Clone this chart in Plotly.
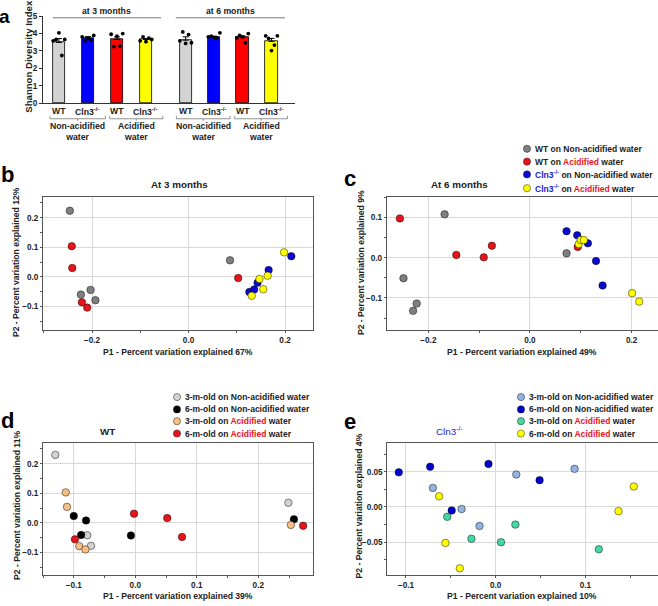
import plotly.graph_objects as go
import numpy as np

W, H = 658, 606
FONT = "Liberation Sans, Arial, sans-serif"

# ---------------- Panel a data ----------------
bar_pos = [0, 1, 2, 3, 4.37, 5.35, 6.33, 7.33]
bar_genotype = ["WT", "Cln3<sup>-/-</sup>", "WT", "Cln3<sup>-/-</sup>",
                "WT", "Cln3<sup>-/-</sup>", "WT", "Cln3<sup>-/-</sup>"]
bar_colors = ["#d3d3d3", "#0000ff", "#ff0000", "#ffff00",
              "#d3d3d3", "#0000ff", "#ff0000", "#ffff00"]
bar_means = [3.49, 3.74, 3.66, 3.66, 3.62, 3.79, 3.79, 3.55]
bar_sem = [0.22, 0.08, 0.15, 0.05, 0.19, 0.06, 0.07, 0.17]
bar_points = [
    [3.58, 3.66, 4.04, 2.74, 3.66],
    [3.81, 3.58, 3.74, 3.62, 3.89],
    [3.96, 3.25, 3.85, 3.28, 4.00],
    [3.58, 3.81, 3.53, 3.74, 3.66],
    [3.58, 4.09, 3.43, 3.94, 3.47],
    [3.81, 3.85, 3.77, 3.75, 4.04],
    [3.75, 3.90, 3.81, 3.47, 4.00],
    [3.87, 3.72, 3.02, 3.34, 3.87],
]
water_groups = ["Non-acidified<br>water", "Acidified<br>water",
                "Non-acidified<br>water", "Acidified<br>water"]
age_groups = ["at 3 months", "at 6 months"]

# ---------------- Panel b data (at 3 months) ----------------
b_wt_non_x = [-0.246, -0.223, -0.203, -0.193, 0.086]
b_wt_non_y = [0.224, -0.060, -0.044, -0.079, 0.056]
b_wt_acid_x = [-0.242, -0.241, -0.221, -0.210, 0.103]
b_wt_acid_y = [0.104, 0.030, -0.086, -0.104, -0.004]
b_cln_non_x = [0.126, 0.136, 0.143, 0.166, 0.213]
b_cln_non_y = [-0.051, -0.043, -0.020, 0.023, 0.070]
b_cln_acid_x = [0.131, 0.147, 0.155, 0.164, 0.198]
b_cln_acid_y = [-0.064, -0.007, -0.042, 0.004, 0.083]

# ---------------- Panel c data (at 6 months) ----------------
c_wt_non_x = [-0.168, -0.249, -0.223, -0.230, 0.072]
c_wt_non_y = [0.108, -0.051, -0.114, -0.132, 0.011]
c_wt_acid_x = [-0.256, -0.145, -0.091, -0.075, 0.094]
c_wt_acid_y = [0.098, 0.007, 0.001, 0.030, 0.027]
c_cln_non_x = [0.072, 0.093, 0.114, 0.130, 0.143]
c_cln_non_y = [0.066, 0.056, 0.036, -0.008, -0.069]
c_cln_acid_x = [0.096, 0.100, 0.106, 0.201, 0.215]
c_cln_acid_y = [0.034, 0.044, 0.044, -0.088, -0.109]

# ---------------- Panel d data (WT) ----------------
d_3m_non_x = [-0.130, -0.078, -0.072, 0.249]
d_3m_non_y = [0.230, -0.042, -0.078, 0.068]
d_6m_non_x = [-0.100, -0.080, -0.088, -0.007, 0.258]
d_6m_non_y = [0.023, 0.008, -0.041, -0.043, 0.012]
d_3m_acid_x = [-0.113, -0.111, -0.091, -0.081, 0.253]
d_3m_acid_y = [0.103, 0.054, -0.079, -0.090, -0.007]
d_6m_acid_x = [-0.098, -0.002, 0.052, 0.076, 0.273]
d_6m_acid_y = [-0.056, 0.031, 0.016, -0.048, -0.010]

# ---------------- Panel e data (Cln3-/-) ----------------
e_3m_non_x = [-0.070, -0.038, -0.018, 0.023, 0.088]
e_3m_non_y = [0.027, -0.003, -0.027, 0.046, 0.054]
e_6m_non_x = [-0.108, -0.073, -0.008, -0.049, 0.049]
e_6m_non_y = [0.049, 0.057, 0.061, -0.005, 0.038]
e_3m_acid_x = [-0.054, -0.027, 0.006, 0.022, 0.115]
e_3m_acid_y = [-0.014, -0.045, -0.050, -0.025, -0.060]
e_6m_acid_x = [-0.063, -0.056, -0.040, 0.137, 0.154]
e_6m_acid_y = [0.015, -0.051, -0.087, -0.006, 0.029]

GRAY, RED, BLUE, YELLOW = "#7f7f7f", "#e8141b", "#0a0ad2", "#ffff00"
LGRAY, BLACK, TAN = "#d2d2d2", "#000000", "#f7bf86"
LBLUE, GREEN = "#93b4e0", "#45d8a3"
ACID = '<span style="color:#e8141b">Acidified</span>'
CLN = '<span style="color:#1a1ad0">Cln3<sup>-/-</sup></span>'


def px_x(p):
    return p / W


def px_y(p):
    return 1 - p / H


fig = go.Figure()

# ---- panel a traces ----
fig.add_trace(go.Bar(
    x=bar_pos, y=bar_means, width=0.42,
    marker=dict(color=bar_colors, line=dict(color="black", width=0.8)),
    error_y=dict(type="data", array=bar_sem, arrayminus=[0] * len(bar_sem),
                 symmetric=False, color="black", thickness=1, width=3),
    xaxis="x", yaxis="y", showlegend=False, hoverinfo="skip"))
for pos, pts in zip(bar_pos, bar_points):
    offs = np.linspace(-0.2, 0.2, len(pts))
    fig.add_trace(go.Scatter(
        x=[pos + o for o in offs], y=pts, mode="markers",
        marker=dict(color="black", size=3.8),
        xaxis="x", yaxis="y", showlegend=False, hoverinfo="skip"))


def scatter(xs, ys, color, ax, edge="rgba(0,0,0,0.65)"):
    fig.add_trace(go.Scatter(
        x=xs, y=ys, mode="markers",
        marker=dict(color=color, size=7.5, line=dict(color=edge, width=0.7)),
        xaxis="x" + ax, yaxis="y" + ax, showlegend=False, hoverinfo="skip"))


scatter(b_wt_non_x, b_wt_non_y, GRAY, "2")
scatter(b_wt_acid_x, b_wt_acid_y, RED, "2")
scatter(b_cln_non_x, b_cln_non_y, BLUE, "2")
scatter(b_cln_acid_x, b_cln_acid_y, YELLOW, "2")

scatter(c_wt_non_x, c_wt_non_y, GRAY, "3")
scatter(c_wt_acid_x, c_wt_acid_y, RED, "3")
scatter(c_cln_non_x, c_cln_non_y, BLUE, "3")
scatter(c_cln_acid_x, c_cln_acid_y, YELLOW, "3")

scatter(d_3m_non_x, d_3m_non_y, LGRAY, "4")
scatter(d_6m_non_x, d_6m_non_y, BLACK, "4")
scatter(d_3m_acid_x, d_3m_acid_y, TAN, "4")
scatter(d_6m_acid_x, d_6m_acid_y, RED, "4")

scatter(e_3m_non_x, e_3m_non_y, LBLUE, "5")
scatter(e_6m_non_x, e_6m_non_y, "#0000cc", "5")
scatter(e_3m_acid_x, e_3m_acid_y, GREEN, "5")
scatter(e_6m_acid_x, e_6m_acid_y, YELLOW, "5")

tickfont = dict(family=FONT, size=8.2, color="#222", weight="bold")
GRID = "#d9d9d9"
FRAME = "#555555"


def sc_axes(dom_x, dom_y, xr, yr, xd, yd, yfmt=".1f", mirror_y=True):
    xa = dict(domain=[px_x(dom_x[0]), px_x(dom_x[1])], range=xr, dtick=xd,
              tick0=0, tickformat=".1f", showgrid=True, gridcolor=GRID,
              gridwidth=0.8, zeroline=False, showline=True, linecolor=FRAME,
              linewidth=1, mirror=True, ticks="outside", ticklen=2,
              tickcolor=FRAME, tickfont=tickfont,
              minor=dict(dtick=xd / 2, ticks="outside", ticklen=2,
                         tickcolor=FRAME, showgrid=False))
    ya = dict(domain=[px_y(dom_y[1]), px_y(dom_y[0])], range=yr, dtick=yd,
              tick0=0, tickformat=yfmt, showgrid=True, gridcolor=GRID,
              gridwidth=0.8, zeroline=False, showline=True, linecolor=FRAME,
              linewidth=1, mirror=mirror_y, ticks="outside", ticklen=2,
              tickcolor=FRAME, tickfont=tickfont,
              minor=dict(dtick=yd / 2, ticks="outside", ticklen=2,
                         tickcolor=FRAME, showgrid=False))
    return xa, ya


x2, y2 = sc_axes((43, 313), (196, 331), [-0.3016, 0.258], [-0.18, 0.27], 0.2, 0.1)
x3, y3 = sc_axes((386.7, 658), (196, 331), [-0.282, 0.252], [-0.18, 0.151], 0.2, 0.1,
                 mirror_y=False)
x4, y4 = sc_axes((43, 313), (445.7, 580), [-0.150, 0.289], [-0.178, 0.27], 0.1, 0.1)
x5, y5 = sc_axes((387.3, 658), (445.7, 580), [-0.1208, 0.181], [-0.097, 0.0905], 0.1, 0.05,
                 yfmt=".2f", mirror_y=False)
x2["anchor"], y2["anchor"] = "y2", "x2"
x3["anchor"], y3["anchor"] = "y3", "x3"
x4["anchor"], y4["anchor"] = "y4", "x4"
x5["anchor"], y5["anchor"] = "y5", "x5"

xa1 = dict(domain=[px_x(43), px_x(295)], range=[-0.55, 8.14], showline=True,
           linecolor="#333", linewidth=1, showticklabels=False, ticks="",
           showgrid=False, zeroline=False, anchor="y")
ya1 = dict(domain=[px_y(100.7), px_y(12.3)], range=[0, 5], dtick=1,
           showline=True, linecolor="#333", linewidth=1, ticks="outside",
           ticklen=3, tickcolor="#333", showgrid=False, zeroline=False,
           tickfont=tickfont, anchor="x")

annotations = []
shapes = []


def txt(x, y, text, size=8, color="#222", bold=True, xanchor="center",
        yanchor="middle", angle=0, xref="paper"):
    annotations.append(dict(
        x=x, y=y, xref=xref, yref="paper", text=text, showarrow=False,
        xanchor=xanchor, yanchor=yanchor, textangle=angle,
        font=dict(family=FONT, size=size, color=color,
                  weight="bold" if bold else "normal")))


# panel a decorations
txt(px_x(28.5), px_y(53), "Shannon Diversity Index", size=9.6, angle=-90)
for pos, g in zip(bar_pos, bar_genotype):
    txt(pos, px_y(108.5), g, size=8.7, xref="x")
brackets = [(bar_pos[0] - 0.31, bar_pos[1] + 0.6),
            (bar_pos[2] - 0.25, bar_pos[3] + 0.58),
            (bar_pos[4] - 0.32, bar_pos[5] + 0.55),
            (bar_pos[6] - 0.27, bar_pos[7] + 0.55)]
for (b0, b1), lab in zip(brackets, water_groups):
    yt, yb = px_y(113.5), px_y(116.5)
    mid = (b0 + b1) / 2
    shapes.append(dict(type="path", xref="x", yref="paper",
                       path=f"M {b0},{yt} L {b0},{yb} L {b1},{yb} L {b1},{yt}",
                       line=dict(color="#777", width=0.8)))
    shapes.append(dict(type="line", xref="x", yref="paper", x0=mid, x1=mid,
                       y0=yb, y1=px_y(118.5), line=dict(color="#777", width=0.8)))
    txt(mid, px_y(129), lab, size=8.7, xref="x")
for (g0, g1), lab in zip([(bar_pos[0] - 0.21, bar_pos[3] + 0.52),
                           (bar_pos[4] - 0.34, bar_pos[7] + 0.46)], age_groups):
    shapes.append(dict(type="line", xref="x", yref="paper", x0=g0, x1=g1,
                       y0=px_y(14), y1=px_y(14), line=dict(color="#777", width=1)))
    txt((g0 + g1) / 2, px_y(7), lab, size=8.7, xref="x")

# panel letters
txt(px_x(4.5), 1.0, "a", size=19, color="black", yanchor="top")
txt(px_x(7), px_y(173), "b", size=22, color="black")
txt(px_x(350), px_y(177), "c", size=22, color="black")
txt(px_x(7), px_y(423), "d", size=22, color="black")
txt(px_x(350), px_y(424), "e", size=22, color="black")

# panel titles
txt(px_x(179), px_y(183.5), "At 3 months", size=9.8)
txt(px_x(459), px_y(183.5), "At 6 months", size=9.8)
txt(px_x(107), px_y(434), "WT", size=9.8)
txt(px_x(450), px_y(433), "Cln3<sup>-/-</sup>", size=9.8, color="#1a1ad0", bold=False)

# axis titles
AT = 8.6
txt(px_x(178), px_y(353), "P1 - Percent variation explained 67%", size=AT)
txt(px_x(522), px_y(353), "P1 - Percent variation explained 49%", size=AT)
txt(px_x(178), px_y(601), "P1 - Percent variation explained 39%", size=AT)
txt(px_x(522), px_y(601), "P1 - Percent variation explained 10%", size=AT)
txt(px_x(15.5), px_y(262.5), "P2 - Percent variation explained 12%", size=AT, angle=-90)
txt(px_x(361), px_y(263), "P2 - Percent variation explained 9%", size=AT, angle=-90)
txt(px_x(17.5), px_y(509), "P2 - Percent variation explained 11%", size=AT, angle=-90)
txt(px_x(359), px_y(510), "P2 - Percent variation explained 4%", size=AT, angle=-90)


# manual legends
def legend(mx, rows, items):
    for ry, (col, label) in zip(rows, items):
        shapes.append(dict(type="circle", xref="paper", yref="paper",
                           xsizemode="pixel", ysizemode="pixel",
                           xanchor=px_x(mx), yanchor=px_y(ry),
                           x0=-3.6, x1=3.6, y0=-3.6, y1=3.6,
                           fillcolor=col, line=dict(color="rgba(0,0,0,0.6)", width=0.7)))
        txt(px_x(mx + 6), px_y(ry), label, size=8.5, xanchor="left")


legend(527, [147, 160, 173, 187], [
    (GRAY, "WT on Non-acidified water"),
    (RED, "WT on " + ACID + " water"),
    (BLUE, CLN + " on Non-acidified water"),
    (YELLOW, CLN + " on " + ACID + " water")])
legend(177, [399, 411.5, 423.5, 436], [
    (LGRAY, "3-m-old on Non-acidified water"),
    (BLACK, "6-m-old on Non-acidified water"),
    (TAN, "3-m-old on " + ACID + " water"),
    (RED, "6-m-old on " + ACID + " water")])
legend(521, [399, 411.5, 423.5, 436], [
    (LBLUE, "3-m-old on Non-acidified water"),
    ("#0000cc", "6-m-old on Non-acidified water"),
    (GREEN, "3-m-old on " + ACID + " water"),
    (YELLOW, "6-m-old on " + ACID + " water")])

fig.update_layout(
    width=W, height=H, margin=dict(l=0, r=0, t=0, b=0),
    paper_bgcolor="white", plot_bgcolor="white",
    font=dict(family=FONT, size=8, color="#222"),
    xaxis=xa1, yaxis=ya1,
    xaxis2=x2, yaxis2=y2, xaxis3=x3, yaxis3=y3,
    xaxis4=x4, yaxis4=y4, xaxis5=x5, yaxis5=y5,
    annotations=annotations, shapes=shapes, showlegend=False,
    bargap=0,
)
fig.write_html("out.html", config={"displayModeBar": False},
               post_script="document.body.style.margin='0px';document.body.style.overflow='hidden';")
